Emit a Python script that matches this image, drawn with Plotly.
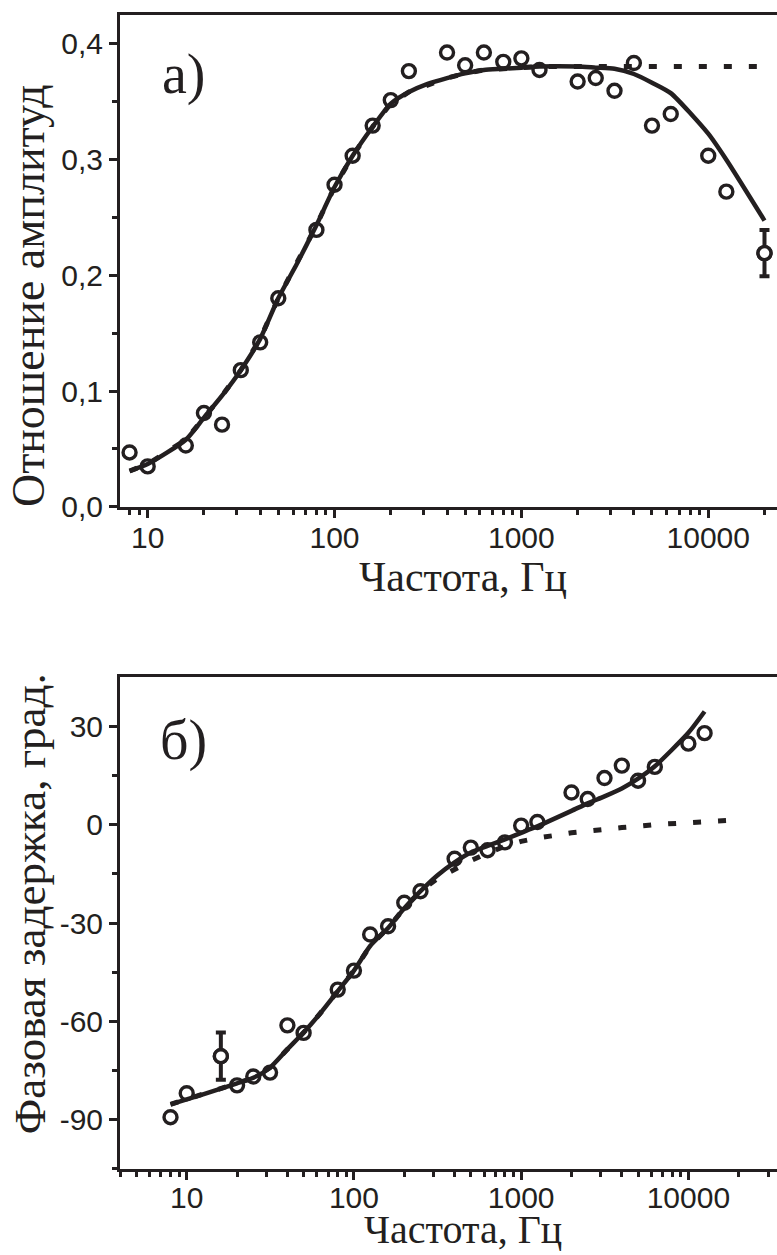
import math
import plotly.graph_objects as go

# ---------------- data: panel a (amplitude ratio) ----------------
freq_a = [8, 10, 16, 20, 25, 31.5, 40, 50, 80, 100, 125, 160, 200, 250, 400, 500,
          630, 800, 1000, 1250, 2000, 2500, 3150, 4000, 5000, 6300, 10000, 12500, 20000]
amp_a = [0.047, 0.035, 0.053, 0.081, 0.071, 0.118, 0.142, 0.180, 0.239, 0.278, 0.303,
         0.329, 0.351, 0.376, 0.392, 0.381, 0.392, 0.384, 0.387, 0.377, 0.367, 0.370,
         0.359, 0.383, 0.329, 0.339, 0.303, 0.272, 0.219]
err_freq_a = [20000]
err_amp_a = [0.219]
err_a = [0.02]

fit_freq_a = [8, 10, 16, 20, 25, 31.5, 40, 50, 63, 80, 100, 125, 160, 200, 250, 315, 400,
              500, 630, 800, 1000, 1250, 2000, 2500, 3150, 4000, 5000, 6300, 10000, 12500, 20000]
fit_solid_a = [0.031, 0.037, 0.058, 0.077, 0.096, 0.118, 0.145, 0.180, 0.210, 0.243, 0.276,
               0.303, 0.328, 0.348, 0.358, 0.365, 0.370, 0.374, 0.377, 0.378, 0.379, 0.380,
               0.380, 0.379, 0.378, 0.3735, 0.366, 0.357, 0.322, 0.2995, 0.247]
fit_dash_a = [0.031, 0.037, 0.058, 0.077, 0.096, 0.118, 0.145, 0.180, 0.210, 0.243, 0.276,
              0.303, 0.328, 0.348, 0.358, 0.364, 0.370, 0.374, 0.377, 0.378, 0.379, 0.380,
              0.380, 0.380, 0.380, 0.380, 0.380, 0.380, 0.380, 0.380, 0.380]

# ---------------- data: panel b (phase delay) ----------------
freq_b = [8, 10, 16, 20, 25, 31.5, 40, 50, 80, 100, 125, 160, 200, 250, 400, 500,
          630, 800, 1000, 1250, 2000, 2500, 3150, 4000, 5000, 6300, 10000, 12500]
phase_b = [-89.2, -81.9, -70.6, -79.5, -76.8, -75.6, -61.2, -63.5, -50.3, -44.5, -33.5,
           -31.0, -23.8, -20.3, -10.4, -7.0, -7.8, -5.4, -0.3, 0.8, 9.8, 7.8, 14.2,
           18.0, 13.4, 17.6, 24.7, 27.9]
err_freq_b = [16]
err_phase_b = [-70.6]
err_b = [7.2]

fit_freq_b = [8, 10, 16, 20, 25, 31.5, 40, 50, 63, 80, 100, 125, 160, 200, 250, 315, 400,
              500, 630, 800, 1000, 1250, 2000, 2500, 3150, 4000, 5000, 6300, 10000, 12500]
fit_solid_b = [-85.3, -83.8, -80.5, -78.9, -77.2, -74.1, -68.5, -63.4, -57.5, -50.8, -44.5,
               -37.0, -31.5, -25.5, -20.3, -15.5, -11.5, -8.5, -6.5, -4.5, -2.5, -0.5,
               4.2, 6.5, 8.6, 11.0, 14.0, 17.8, 28.0, 34.5]
dash_freq_b = [8, 10, 16, 20, 25, 31.5, 40, 50, 63, 80, 100, 125, 160, 200, 250, 315, 400,
               500, 630, 800, 1000, 1250, 2000, 2500, 3150, 4000, 5000, 6300, 10000, 12500, 20000]
fit_dash_b = [-85.3, -83.8, -80.5, -78.9, -77.2, -74.1, -68.5, -63.4, -57.5, -50.8, -44.5,
              -37.0, -31.5, -25.5, -20.3, -16.5, -13.5, -11.0, -8.7, -6.6, -5.1, -4.1,
              -2.5, -1.9, -1.3, -0.9, -0.5, 0.0, 0.6, 0.9, 1.5]

# ---------------- tick labels ----------------
x_tickvals = [10, 100, 1000, 10000]
x_ticktext = ["10", "100", "1000", "10000"]
ya_tickvals = [0.0, 0.1, 0.2, 0.3, 0.4]
ya_ticktext = ["0,0", "0,1", "0,2", "0,3", "0,4"]
ya_minor = [0.05, 0.15, 0.25, 0.35]
yb_tickvals = [-90, -60, -30, 0, 30]
yb_ticktext = ["-90", "-60", "-30", "0", "30"]
yb_minor = [-105, -75, -45, -15, 15]

title_x = "Частота, Гц"
title_ya = "Отношение амплитуд"
title_yb = "Фазовая задержка, град."
label_a = "а)"
label_b = "б)"

# ---------------- style ----------------
INK = "#231f20"
SERIF = "Liberation Serif, Times New Roman, serif"
SANS = "Liberation Sans, Arial, sans-serif"
x_minor = [d * 10 ** e for e in range(0, 5) for d in range(2, 10)]

fig = go.Figure()


def add_panel(xa, ya, fx, fs, dfx, fd, dx, dy, ex, ey, ee):
    fig.add_trace(go.Scatter(x=dfx, y=fd, mode="lines", xaxis=xa, yaxis=ya,
                             line=dict(color=INK, width=5, dash="8px,17px"),
                             showlegend=False, hoverinfo="skip"))
    fig.add_trace(go.Scatter(x=fx, y=fs, mode="lines", xaxis=xa, yaxis=ya,
                             line=dict(color=INK, width=4.5, shape="spline", smoothing=0.6),
                             showlegend=False, hoverinfo="skip"))
    fig.add_trace(go.Scatter(x=dx, y=dy, mode="markers", xaxis=xa, yaxis=ya,
                             marker=dict(symbol="circle-open", size=13, color=INK,
                                         line=dict(color=INK, width=3.4)),
                             showlegend=False))
    fig.add_trace(go.Scatter(x=ex, y=ey, mode="markers", xaxis=xa, yaxis=ya,
                             error_y=dict(type="data", array=ee, visible=True,
                                          color=INK, thickness=4, width=5),
                             marker=dict(symbol="circle", size=13, color="white",
                                         line=dict(color=INK, width=3.4)),
                             showlegend=False))


add_panel("x", "y", fit_freq_a, fit_solid_a, fit_freq_a, fit_dash_a,
          freq_a, amp_a, err_freq_a, err_amp_a, err_a)
add_panel("x2", "y2", fit_freq_b, fit_solid_b, dash_freq_b, fit_dash_b,
          freq_b, phase_b, err_freq_b, err_phase_b, err_b)

axis_common = dict(showgrid=False, zeroline=False, showline=True, linewidth=3,
                   linecolor=INK, ticks="outside", ticklen=8, tickwidth=3,
                   tickcolor=INK, tickfont=dict(family=SANS, size=30, color=INK))

fig.update_layout(
    width=777, height=1255,
    margin=dict(l=120, r=0, t=15, b=86),
    paper_bgcolor="white", plot_bgcolor="white",
    xaxis=dict(type="log", domain=[0, 1], anchor="y",
               range=[math.log10(7.11), 4.368], mirror=True,
               tickmode="array", tickvals=x_tickvals, ticktext=x_ticktext,
               ticklabelstandoff=-6,
               minor=dict(tickmode="array", tickvals=x_minor, ticks="outside",
                          ticklen=5, tickwidth=2.5, tickcolor=INK),
               **axis_common),
    yaxis=dict(domain=[0.5737, 1], anchor="x", range=[0, 0.4244],
               tickmode="array", tickvals=ya_tickvals, ticktext=ya_ticktext,
               minor=dict(tickmode="array", tickvals=ya_minor, ticks="outside",
                          ticklen=5, tickwidth=2.5, tickcolor=INK),
               **axis_common),
    xaxis2=dict(type="log", domain=[0, 1], anchor="y2",
                range=[0.601, 4.530], mirror=True,
                tickmode="array", tickvals=x_tickvals, ticktext=x_ticktext,
                ticklabelstandoff=-8,
                minor=dict(tickmode="array", tickvals=x_minor, ticks="outside",
                           ticklen=5, tickwidth=2.5, tickcolor=INK),
                **axis_common),
    yaxis2=dict(domain=[0, 0.4263], anchor="x2", range=[-105, 45],
                tickmode="array", tickvals=yb_tickvals, ticktext=yb_ticktext,
                minor=dict(tickmode="array", tickvals=yb_minor, ticks="outside",
                           ticklen=5, tickwidth=2.5, tickcolor=INK),
                **axis_common),
)

fig.add_annotation(text=title_ya, xref="x domain", yref="y domain", x=-0.139, y=0.43,
                   textangle=-90, showarrow=False, xanchor="center", yanchor="middle",
                   font=dict(family=SERIF, size=46, color=INK))
fig.add_annotation(text=title_yb, xref="x2 domain", yref="y2 domain", x=-0.137, y=0.54,
                   textangle=-90, showarrow=False, xanchor="center", yanchor="middle",
                   font=dict(family=SERIF, size=45, color=INK))
fig.add_annotation(text=title_x, xref="x domain", yref="y domain", x=0.522, y=-0.142,
                   showarrow=False, xanchor="center", yanchor="middle",
                   font=dict(family=SERIF, size=42, color=INK))
fig.add_annotation(text=title_x, xref="x2 domain", yref="y2 domain", x=0.522, y=-0.1728,
                   showarrow=False, xanchor="center", yanchor="bottom",
                   font=dict(family=SERIF, size=40, color=INK))
fig.add_annotation(text=label_a, xref="x domain", yref="y domain", x=0.097, y=0.88,
                   showarrow=False, xanchor="center", yanchor="middle",
                   font=dict(family=SERIF, size=56, color=INK))
fig.add_annotation(text=label_b, xref="x2 domain", yref="y2 domain", x=0.097, y=0.872,
                   showarrow=False, xanchor="center", yanchor="middle",
                   font=dict(family=SERIF, size=56, color=INK))

fig.write_html("out.html")
